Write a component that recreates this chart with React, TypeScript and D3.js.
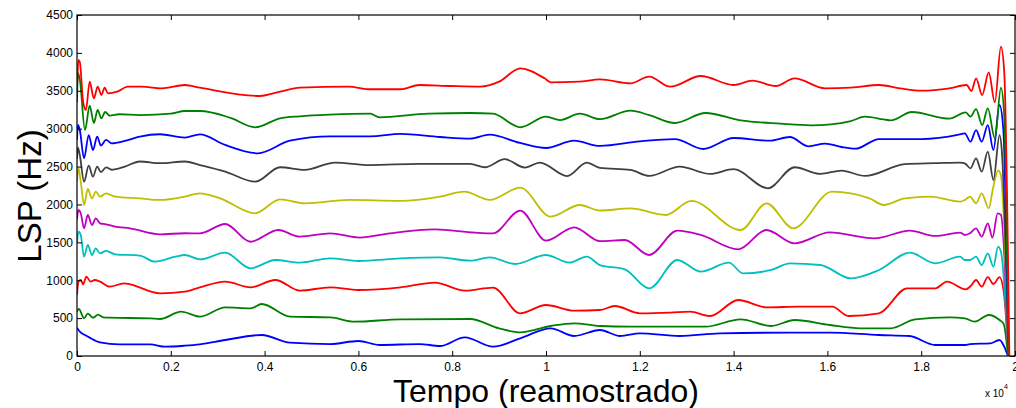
import React, { useRef, useEffect } from 'react'
import * as d3 from 'd3'

// LSP tracks, [sample, Hz] (bottom to top)
const lsp1 = [[0,374],[60,321],[170,277],[270,242],[490,180],[910,154],[1560,154],[1880,123],[2300,136],[2620,154],[3160,211],[3940,277],[4540,176],[5400,158],[6000,198],[6460,145],[7300,158],[7740,132],[8270,246],[8870,123],[9450,233],[10100,365],[10600,264],[11150,343],[11580,264],[12000,299],[12850,264],[13700,299],[15200,308],[16050,308],[17100,277],[17750,264],[18300,145],[18930,145],[19040,158],[19470,167],[19670,211],[19770,123],[19850,0]]
const lsp2 = [[0,585],[40,620],[150,497],[230,560],[340,505],[450,545],[560,510],[700,506],[1560,497],[1770,488],[2220,585],[2620,519],[3160,642],[3700,629],[3940,686],[4540,519],[5400,510],[5920,453],[6900,484],[8380,488],[9000,365],[9450,312],[10100,396],[10600,431],[11150,396],[11800,387],[13400,387],[14150,484],[14800,396],[15300,475],[16050,409],[16700,365],[17350,365],[17870,484],[18600,510],[18930,497],[19140,453],[19440,541],[19670,475],[19760,420],[19850,0]]
const lsp3 = [[0,805],[30,981],[80,1003],[130,946],[200,1047],[290,981],[380,1003],[490,981],[700,915],[1000,959],[1130,946],[1770,827],[2300,849],[2620,906],[3160,981],[3700,906],[4230,1003],[4750,862],[5400,906],[6000,871],[6900,906],[7630,968],[8270,862],[8870,902],[9450,563],[10000,673],[10600,598],[11150,607],[11470,660],[12000,563],[12650,572],[13070,585],[13500,528],[14100,739],[14700,642],[15400,651],[16100,651],[16450,528],[17100,563],[17700,893],[18300,893],[18550,981],[18950,880],[19050,920],[19170,1003],[19290,915],[19420,1040],[19540,950],[19670,1040],[19760,849],[19860,0]]
const lsp4 = [[0,1500],[30,1640],[80,1597],[150,1311],[230,1465],[320,1333],[400,1421],[490,1355],[620,1386],[810,1342],[1340,1325],[1660,1245],[2100,1311],[2300,1333],[2620,1275],[3160,1363],[3700,1157],[4230,1267],[4750,1232],[5400,1289],[6000,1254],[6900,1289],[7740,1302],[8380,1258],[8800,1302],[9340,1214],[10000,1333],[10500,1232],[10870,1311],[11150,1200],[11680,1144],[12200,893],[12800,1267],[13300,1113],[13900,1232],[14200,1091],[14800,1135],[15200,1223],[15850,1201],[16500,1025],[17100,1135],[17760,1363],[18300,1223],[18830,1311],[18930,1267],[19040,1267],[19170,1311],[19290,1201],[19420,1355],[19540,1179],[19640,1443],[19700,1377],[19860,0]]
const lsp5 = [[0,1800],[30,1927],[80,1883],[150,1685],[230,1861],[320,1729],[400,1817],[490,1751],[620,1738],[810,1707],[1130,1685],[1770,1606],[2300,1620],[2620,1619],[3160,1742],[3700,1508],[4290,1663],[4750,1575],[5400,1619],[6030,1562],[6670,1619],[7630,1672],[8490,1628],[8870,1619],[9450,1918],[10000,1522],[10600,1698],[11150,1515],[11680,1531],[12200,1333],[12800,1654],[13300,1597],[14100,1408],[14700,1663],[15300,1487],[16050,1632],[17000,1553],[17760,1654],[18300,1584],[18830,1628],[18930,1597],[19040,1619],[19170,1685],[19290,1575],[19420,1751],[19520,1562],[19630,1883],[19700,1861],[19860,0]]
const lsp6 = [[0,2300],[30,2481],[80,2300],[150,1993],[230,2204],[320,2081],[400,2168],[490,2103],[620,2147],[810,2103],[1340,2081],[1770,2059],[2300,2103],[2620,2147],[3050,2081],[3800,1883],[4330,2068],[4860,2015],[5800,2059],[6900,2046],[7740,2103],[8260,2169],[8800,2059],[9450,2222],[10100,1839],[10720,1993],[11150,1920],[11800,1947],[12550,1861],[13100,2046],[14150,1663],[14700,2015],[15270,1685],[16100,2168],[16900,2081],[17200,1993],[17650,2081],[18200,2103],[18830,2037],[18930,2059],[19040,2103],[19170,2015],[19290,2147],[19440,1949],[19530,2210],[19640,2450],[19700,2380],[19860,0]]
const lsp7 = [[0,2600],[20,2749],[60,2652],[150,2300],[250,2511],[340,2366],[430,2500],[510,2427],[620,2489],[740,2458],[1020,2500],[1340,2567],[1770,2544],[2300,2567],[2620,2520],[3160,2433],[3800,2300],[4330,2491],[4860,2456],[5500,2553],[6250,2520],[7300,2535],[8380,2535],[8700,2491],[9120,2597],[9550,2487],[9870,2553],[10450,2375],[10870,2553],[11150,2482],[11800,2456],[12200,2376],[12850,2500],[13500,2403],[14000,2465],[14730,2213],[15300,2491],[15850,2403],[16300,2447],[16800,2376],[17650,2531],[18300,2544],[18830,2553],[18930,2543],[19050,2477],[19170,2609],[19290,2433],[19420,2696],[19540,2322],[19670,2916],[19720,2700],[19860,0]]
const lsp8 = [[0,2850],[20,3050],[60,2982],[150,2608],[250,2916],[340,2718],[430,2895],[510,2776],[620,2851],[740,2807],[1020,2838],[1340,2895],[1770,2926],[2300,2882],[2620,2925],[3160,2785],[3860,2675],[4540,2841],[5400,2899],[6250,2899],[6900,2930],[7740,2890],[8380,2868],[8800,2921],[9450,2811],[10000,2745],[10600,2841],[11150,2772],[12000,2833],[12750,2863],[13350,2732],[14000,2877],[14770,2841],[15200,2890],[15600,2767],[15950,2802],[16300,2758],[16600,2736],[17100,2863],[18000,2863],[18800,2921],[18930,2939],[19050,2828],[19170,2982],[19290,2828],[19420,3048],[19540,2718],[19670,3312],[19750,3000],[19860,0]]
const lsp9 = [[0,3350],[20,3735],[60,3650],[170,2982],[270,3303],[360,3075],[440,3246],[520,3137],[600,3220],[700,3171],[900,3190],[1340,3180],[2000,3198],[2300,3233],[2620,3233],[3260,3145],[3800,3018],[4330,3137],[4750,3163],[5400,3185],[6250,3198],[6450,3150],[7500,3198],[8380,3207],[8870,3198],[9450,3018],[10000,3158],[10300,3114],[10720,3198],[11150,3125],[11800,3237],[12200,3180],[12750,3075],[13400,3207],[14150,3110],[15000,3066],[15650,3044],[16500,3101],[16800,3158],[17200,3123],[17350,3110],[17800,3220],[18600,3132],[18950,3216],[19050,3159],[19170,3259],[19300,3048],[19420,3268],[19570,2872],[19700,3541],[19770,3180],[19860,0]]
const lsp10 = [[0,3500],[30,3906],[60,3880],[130,3356],[190,3246],[270,3620],[360,3400],[440,3554],[520,3444],[590,3541],[660,3466],[870,3493],[1080,3554],[1380,3554],[1810,3532],[2300,3576],[2620,3541],[3900,3431],[4330,3488],[4750,3541],[5800,3554],[6200,3520],[6900,3520],[7300,3576],[7950,3563],[8600,3554],[9000,3620],[9450,3796],[9970,3664],[10100,3612],[10700,3620],[11150,3651],[11800,3598],[12200,3686],[12650,3554],[13300,3695],[14000,3576],[14400,3633],[14900,3563],[15300,3664],[15950,3532],[16500,3541],[17100,3576],[17550,3532],[18000,3501],[18600,3532],[18970,3576],[19070,3497],[19170,3664],[19300,3444],[19440,3743],[19570,3348],[19700,4082],[19770,3752],[19880,0]]

const series = [lsp1, lsp2, lsp3, lsp4, lsp5, lsp6, lsp7, lsp8, lsp9, lsp10]
const colors = ['#0000ff', '#008000', '#ff0000', '#00bfbf', '#bf00bf', '#bfbf00', '#404040', '#0000ff', '#008000', '#ff0000']
const xTicks = [0, 2000, 4000, 6000, 8000, 10000, 12000, 14000, 16000, 18000, 20000]
const yTicks = [0, 500, 1000, 1500, 2000, 2500, 3000, 3500, 4000, 4500]

function App() {
  const svgRef = useRef<SVGSVGElement>(null)

  useEffect(() => {
    const svg = d3.select(svgRef.current)
    svg.selectAll('*').remove()
    const font = '"Liberation Sans", Arial, sans-serif'
    const margin = { top: 15, right: 1, bottom: 52, left: 77 }
    const width = 1016, height = 408
    const x = d3.scaleLinear().domain([0, 20000]).range([margin.left, width - margin.right])
    const y = d3.scaleLinear().domain([0, 4500]).range([height - margin.bottom, margin.top])

    svg.append('clipPath').attr('id', 'plot')
      .append('rect')
      .attr('x', margin.left).attr('y', margin.top)
      .attr('width', x(20000) - margin.left).attr('height', y(0) - margin.top)

    const line = d3.line<number[]>()
      .x(d => x(d[0]))
      .y(d => y(d[1]))
      .curve(d3.curveMonotoneX)

    svg.append('g').attr('clip-path', 'url(#plot)')
      .selectAll('path')
      .data(series)
      .enter()
      .append('path')
      .attr('d', d => line(d))
      .attr('fill', 'none')
      .attr('stroke', (d, i) => colors[i])
      .attr('stroke-width', 1.8)

    const fmtX = (d: d3.NumberValue) => String(+d / 10000)
    const bottom = svg.append('g').attr('transform', `translate(0,${y(0)})`)
      .call(d3.axisBottom(x).tickValues(xTicks).tickFormat(fmtX).tickSizeInner(-5).tickSizeOuter(0).tickPadding(6))
    const top = svg.append('g').attr('transform', `translate(0,${y(4500)})`)
      .call(d3.axisTop(x).tickValues(xTicks).tickFormat(() => '').tickSizeInner(-5).tickSizeOuter(0))
    const left = svg.append('g').attr('transform', `translate(${x(0)},0)`)
      .call(d3.axisLeft(y).tickValues(yTicks).tickFormat(d3.format('d')).tickSizeInner(-5).tickSizeOuter(0).tickPadding(4))
    const right = svg.append('g').attr('transform', `translate(${x(20000)},0)`)
      .call(d3.axisRight(y).tickValues(yTicks).tickFormat(() => '').tickSizeInner(-5).tickSizeOuter(0))

    ;[bottom, top, left, right].forEach(g => {
      g.select('.domain').remove()
      g.selectAll('line').attr('stroke', '#000')
      g.selectAll('text').attr('font-family', font).attr('font-size', 12).attr('fill', '#000')
    })

    svg.append('rect')
      .attr('x', x(0)).attr('y', y(4500))
      .attr('width', x(20000) - x(0)).attr('height', y(0) - y(4500))
      .attr('fill', 'none').attr('stroke', '#000').attr('stroke-width', 1.2)

    svg.append('text')
      .attr('x', 546).attr('y', 402)
      .attr('text-anchor', 'middle')
      .attr('font-family', font).attr('font-size', 32)
      .text('Tempo (reamostrado)')

    svg.append('text')
      .attr('transform', 'translate(41,196) rotate(-90)')
      .attr('text-anchor', 'middle')
      .attr('font-family', font).attr('font-size', 33)
      .text('LSP (Hz)')

    const exp = svg.append('text')
      .attr('x', 985).attr('y', 397)
      .attr('font-family', font).attr('font-size', 10)
    exp.append('tspan').text('x 10')
    exp.append('tspan').attr('dy', -8).attr('font-size', 7).text('4')
  }, [])

  return (
    <svg ref={svgRef} width={1016} height={408}
      style={{ position: 'absolute', left: 0, top: 0, background: '#fff' }} />
  )
}

export default App
